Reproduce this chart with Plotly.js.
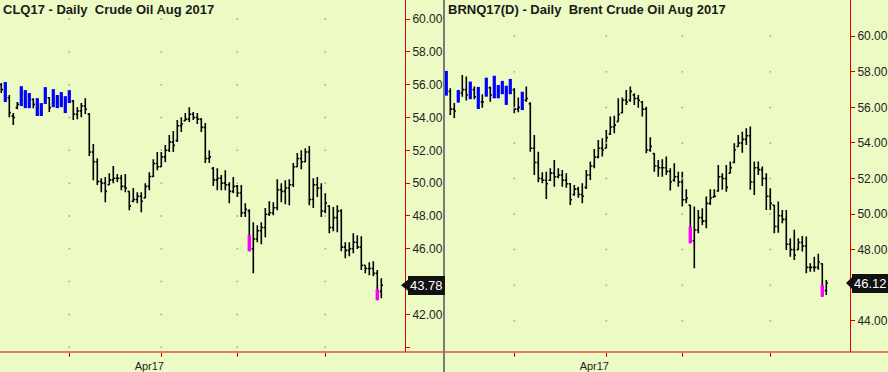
<!DOCTYPE html>
<html>
<head>
<meta charset="utf-8">
<script src="https://cdn.plot.ly/plotly-3.0.1.min.js"></script>
<style>html,body{margin:0;padding:0;background:#ECFBC4;}#chart{width:888px;height:372px;}</style>
</head>
<body>
<div id="chart"></div>
<script>
// ---- trading dates (shared by both contracts) ----
const dates = [
"2017-02-03","2017-02-06","2017-02-07","2017-02-08","2017-02-09","2017-02-10","2017-02-13","2017-02-14","2017-02-15","2017-02-16",
"2017-02-17","2017-02-21","2017-02-22","2017-02-23","2017-02-24","2017-02-27","2017-02-28","2017-03-01","2017-03-02","2017-03-03",
"2017-03-06","2017-03-07","2017-03-08","2017-03-09","2017-03-10","2017-03-13","2017-03-14","2017-03-15","2017-03-16","2017-03-17",
"2017-03-20","2017-03-21","2017-03-22","2017-03-23","2017-03-24","2017-03-27","2017-03-28","2017-03-29","2017-03-30","2017-03-31",
"2017-04-03","2017-04-04","2017-04-05","2017-04-06","2017-04-07","2017-04-10","2017-04-11","2017-04-12","2017-04-13","2017-04-17",
"2017-04-18","2017-04-19","2017-04-20","2017-04-21","2017-04-24","2017-04-25","2017-04-26","2017-04-27","2017-04-28","2017-05-01",
"2017-05-02","2017-05-03","2017-05-04","2017-05-05","2017-05-08","2017-05-09","2017-05-10","2017-05-11","2017-05-12","2017-05-15",
"2017-05-16","2017-05-17","2017-05-18","2017-05-19","2017-05-22","2017-05-23","2017-05-24","2017-05-25","2017-05-26","2017-05-30",
"2017-05-31","2017-06-01","2017-06-02","2017-06-05","2017-06-06","2017-06-07","2017-06-08","2017-06-09","2017-06-12","2017-06-13",
"2017-06-14","2017-06-15","2017-06-16","2017-06-19","2017-06-20","2017-06-21"];

const monthStarts = ["2017-03-01","2017-04-03","2017-05-01","2017-06-01"];
const monthLabels = ["","Apr17","",""];

// ---- CLQ17 (WTI Aug 2017) ----
const clOpen = [56.0,55.7,55.2,54.1,54.6,54.8,55.5,54.9,55.1,54.8,54.4,54.9,55.2,54.7,55.3,54.9,55.2,54.9,55.0,54.2,
54.4,54.7,54.2,51.9,51.3,50.1,50.0,49.9,50.2,50.3,50.3,49.8,49.5,48.9,49.0,49.2,49.1,49.8,50.4,51.2,
51.0,51.6,52.0,52.5,52.6,53.5,53.8,53.9,54.2,54.0,53.9,53.4,51.5,50.9,50.2,50.3,50.0,49.9,49.5,49.8,
49.4,48.2,48.3,46.0,46.6,47.1,47.3,48.1,48.2,48.5,49.6,49.5,49.7,49.9,51.0,51.5,51.3,51.9,49.0,49.9,
49.7,48.3,48.6,47.3,47.9,48.3,46.1,45.9,46.0,46.4,46.1,45.0,44.8,44.8,44.5,43.4];
const clHigh = [56.10,56.16,55.37,54.27,54.94,55.91,55.67,55.49,55.18,55.18,54.88,55.85,55.24,55.73,55.37,55.55,55.30,55.67,55.06,54.63,
54.88,55.18,54.27,52.38,51.52,50.30,50.37,50.61,51.04,50.55,50.49,50.55,49.51,49.70,49.45,49.45,50.00,50.67,51.46,51.89,
51.89,52.32,52.93,53.17,53.84,54.02,54.27,54.63,54.33,54.27,53.96,53.66,52.01,50.98,50.91,50.49,50.79,50.06,50.37,49.88,
49.88,48.78,48.41,47.62,47.44,47.62,48.48,48.90,48.84,50.24,50.00,50.18,50.24,51.22,51.83,52.01,52.13,52.26,50.30,50.37,
50.00,49.39,48.66,48.54,48.66,48.41,46.40,46.40,46.95,46.83,46.77,45.00,45.18,45.24,44.70,44.21];
const clLow = [55.49,54.94,54.02,53.54,54.51,54.70,54.57,54.57,54.57,54.09,54.09,54.82,54.33,54.63,54.57,54.63,54.27,54.88,53.84,53.90,
54.02,54.21,51.65,50.18,49.88,49.45,48.84,49.88,50.00,50.06,49.57,49.45,48.35,48.84,48.78,48.23,49.09,49.57,50.37,50.79,
50.98,51.28,51.89,51.89,52.50,53.11,53.78,53.72,53.84,53.60,53.11,51.22,51.22,49.82,49.57,49.57,49.57,48.78,49.39,49.15,
47.93,47.93,45.85,44.51,46.40,46.28,46.71,47.99,48.05,48.35,48.84,48.72,48.66,49.76,50.98,50.85,51.28,48.66,48.48,49.15,
47.93,48.17,46.95,47.07,47.01,45.85,45.43,45.55,45.73,45.98,44.70,44.51,44.39,44.33,42.87,42.99];
const clClose = [55.7,55.0,54.3,54.0,54.8,55.5,54.9,55.1,54.8,54.4,54.6,55.4,54.6,55.4,54.9,55.3,54.6,55.4,54.2,54.4,
54.7,54.5,51.9,51.3,50.1,50.0,49.5,50.2,50.3,50.3,49.8,49.7,48.6,49.0,49.2,48.9,49.8,50.4,51.2,51.0,
51.6,52.0,52.5,52.3,53.5,53.6,53.9,54.2,54.0,53.9,53.4,51.5,51.6,50.2,50.3,50.0,49.9,49.5,49.8,49.4,
48.2,48.4,46.0,46.6,47.1,47.3,48.1,48.2,48.5,49.6,49.5,49.7,49.9,51.0,51.5,51.3,51.9,49.0,49.9,49.7,
48.3,48.8,47.3,47.9,48.3,46.1,45.9,46.0,46.4,46.1,45.0,44.8,44.8,44.5,43.4,43.78];
const clBlue = [1,5,6,7,9,10,11,13,14,15,16,17];          // bar indexes drawn in blue
const clMagIdx = [62,94];                                  // bars with magenta segment
const clMagHigh = [46.83,43.54];
const clMagLow = [45.85,42.87];
const clTicks = [40,42,44,46,48,50,52,54,56,58,60];
// 40.00 is clipped by the bottom edge and 44.00 lies under the last-price box in the reference
const clTickText = ["","42.00","","46.00","48.00","50.00","52.00","54.00","56.00","58.00","60.00"];
const clLast = 43.78;

// ---- BRNQ17 (Brent Aug 2017) ----
const brOpen = [57.9,56.9,55.9,56.3,56.8,57.0,56.7,57.0,56.6,56.3,56.6,57.1,56.7,57.2,56.8,57.0,56.8,57.0,55.9,56.0,
56.4,56.2,53.7,52.9,52.0,51.9,51.9,52.3,52.1,52.2,51.9,51.7,51.1,51.4,51.1,51.5,52.2,52.7,53.2,53.7,
53.7,54.5,54.9,55.2,55.7,56.4,56.4,56.7,56.5,56.3,55.9,53.6,53.4,52.7,52.6,52.6,52.4,51.9,52.1,51.8,
50.8,50.5,48.5,49.1,49.8,49.6,50.6,50.95,51.3,52.1,52.0,52.3,52.9,53.8,54.0,54.2,54.4,51.8,52.6,52.5,
52.0,51.0,50.5,49.3,49.9,49.7,48.3,48.0,48.0,48.4,48.2,47.0,47.0,47.0,47.2,45.7];
const brHigh = [58.05,57.08,56.25,56.98,57.82,57.73,57.45,57.17,57.15,56.74,57.67,57.17,57.78,57.26,57.49,57.22,57.60,57.08,56.55,56.88,
57.17,56.29,54.45,53.51,52.35,52.38,52.58,53.04,52.58,52.48,52.29,51.73,51.64,51.54,51.73,52.48,52.95,53.66,54.17,54.26,
54.73,55.48,55.53,56.51,56.55,56.98,57.17,56.79,56.70,56.36,56.04,54.32,53.42,53.04,53.08,53.23,52.58,52.86,52.38,52.38,
51.39,50.51,50.42,50.23,50.33,50.98,51.39,51.39,52.76,52.29,52.76,52.95,53.98,54.45,54.63,54.83,54.92,52.95,52.95,52.67,
52.29,51.45,50.51,50.70,50.23,50.23,48.64,49.11,48.64,48.77,48.73,47.23,47.60,47.76,47.23,46.29];
const brLow = [56.66,55.57,55.40,56.27,56.60,56.38,56.46,56.46,55.91,55.98,56.60,56.32,56.51,56.51,56.74,56.14,56.74,55.67,55.73,55.85,
56.32,53.51,52.20,51.79,51.73,50.85,51.86,51.54,52.01,51.54,51.48,50.51,51.03,50.92,50.61,51.41,51.92,52.58,53.14,53.23,
53.70,54.45,54.54,55.20,55.67,56.14,56.32,56.14,55.98,55.48,53.42,53.51,52.38,52.10,52.10,52.20,51.32,51.82,51.54,50.42,
50.61,48.36,46.95,48.92,49.39,49.20,50.51,50.94,51.26,51.36,51.26,52.29,52.86,53.79,53.45,53.89,51.36,51.07,52.20,51.58,
50.23,50.23,48.92,48.95,49.48,47.98,47.60,47.42,47.98,47.89,46.67,46.76,46.76,46.86,45.35,45.45];
const brClose = [56.9,55.9,55.8,56.8,57.0,56.7,57.0,56.6,56.3,56.3,57.2,56.7,57.2,56.8,57.0,56.5,57.2,55.9,56.0,56.3,
56.5,53.7,52.9,52.0,51.9,51.7,52.3,52.1,52.2,51.9,51.7,50.8,51.4,51.1,51.0,52.2,52.7,53.2,53.7,53.6,
54.3,54.9,55.0,55.6,56.4,56.3,56.9,56.5,56.4,55.9,53.6,53.8,52.7,52.6,52.6,52.4,51.8,52.1,51.8,50.8,
50.9,48.5,49.1,49.8,49.6,50.6,50.9,51.0,52.1,52.0,51.5,52.6,53.6,54.0,54.2,54.4,51.8,52.6,52.5,52.0,
51.0,50.6,49.3,49.9,49.7,48.3,48.0,47.7,48.4,48.2,47.0,47.0,47.0,47.3,45.7,46.12];
const brBlue = [0,3,6,8,10,12,13,14,15,16,19];
const brMagIdx = [61,94];
const brMagHigh = [49.29,46.01];
const brMagLow = [48.36,45.35];
const brTicks = [44,46,48,50,52,54,56,58,60];
// 46.00 lies under the last-price box in the reference
const brTickText = ["44.00","","48.00","50.00","52.00","54.00","56.00","58.00","60.00"];
const brLast = 46.12;

// ---- style ----
const BG = "#ECFBC4";
const RED = "#E00000";
const FONT = "Liberation Sans, Arial, sans-serif";
const W = 888, H = 372;

function pick(arr, idx){ return idx.map(i => arr[i]); }

function panelTraces(xa, ya, O, Hh, L, C, blueIdx, magIdx, magHi, magLo, ticks){
  const all = dates.map((d,i)=>i);
  const blk = all.filter(i => blueIdx.indexOf(i) < 0);
  const t = [];
  const gx = [], gy = [];
  monthStarts.forEach(m => ticks.forEach(v => { gx.push(m); gy.push(v); }));
  t.push({type:"scatter", mode:"markers", x:gx, y:gy, xaxis:xa, yaxis:ya,
    marker:{size:2, color:"#B0B0A8"}, hoverinfo:"skip"});
  t.push({type:"ohlc", xaxis:xa, yaxis:ya,
    x:pick(dates,blk), open:pick(O,blk), high:pick(Hh,blk), low:pick(L,blk), close:pick(C,blk),
    tickwidth:0.42,
    increasing:{line:{color:"#000000", width:1.6}},
    decreasing:{line:{color:"#000000", width:1.6}}});
  t.push({type:"ohlc", xaxis:xa, yaxis:ya,
    x:pick(dates,blueIdx), open:pick(O,blueIdx), high:pick(Hh,blueIdx), low:pick(L,blueIdx), close:pick(C,blueIdx),
    tickwidth:0,
    increasing:{line:{color:"#0000FF", width:3.2}},
    decreasing:{line:{color:"#0000FF", width:3.2}}});
  t.push({type:"ohlc", xaxis:xa, yaxis:ya,
    x:pick(dates,magIdx), open:magHi, high:magHi, low:magLo, close:magLo,
    tickwidth:0,
    increasing:{line:{color:"#FF00FF", width:3.4}},
    decreasing:{line:{color:"#FF00FF", width:3.4}}});
  return t;
}

const data = [].concat(
  panelTraces("x","y", clOpen, clHigh, clLow, clClose, clBlue, clMagIdx, clMagHigh, clMagLow, clTicks),
  panelTraces("x2","y2", brOpen, brHigh, brLow, brClose, brBlue, brMagIdx, brMagHigh, brMagLow, brTicks)
);

const yDom = [20/H, 1];
function xAxis(dom, anchor){
  return {domain:dom, anchor:anchor, type:"category", categoryorder:"array", categoryarray:dates,
    range:[-0.325, 100.925], tickmode:"array", tickvals:monthStarts, ticktext:monthLabels,
    ticks:"outside", ticklen:4, tickcolor:RED, tickwidth:1, showgrid:false, zeroline:false, showline:false,
    ticklabelshift:-12, tickfont:{family:FONT, size:11, color:"#1E1E1E"},
    rangeslider:{visible:false}, fixedrange:true};
}
function yAxis(range, anchor, tv, tt){
  return {domain:yDom, anchor:anchor, side:"right", range:range, tickmode:"array", tickvals:tv, ticktext:tt,
    ticks:"outside", ticklen:4, tickcolor:RED, tickwidth:1, showline:true, linecolor:RED, linewidth:1,
    showgrid:false, zeroline:false, tickfont:{family:FONT, size:12, color:"#222222"}, fixedrange:true};
}

function priceBox(xPix, yref, val, tipPix){
  return {
    ann:{xref:"paper", yref:yref, x:xPix/W, y:val, xanchor:"left", yanchor:"middle", showarrow:false,
      text:val.toFixed(2), bgcolor:"#111111", bordercolor:"#111111", borderpad:1,
      font:{family:FONT, size:13, color:"#FFFFFF"}},
    tri:{type:"path", xref:"paper", yref:yref, fillcolor:"#111111", line:{width:0},
      path:"M "+(tipPix/W)+","+val+" L "+(xPix/W)+","+(val+0.33)+" L "+(xPix/W)+","+(val-0.33)+" Z"}
  };
}
const pbL = priceBox(408, "y", clLast, 401);
const pbR = priceBox(852, "y2", brLast, 846);

const layout = {
  width:W, height:H, margin:{l:0, r:0, t:0, b:0, pad:0},
  paper_bgcolor:BG, plot_bgcolor:BG, showlegend:false,
  font:{family:FONT},
  xaxis:xAxis([0, 405/W], "y"),
  yaxis:yAxis([39.71, 61.16], "x", clTicks, clTickText),
  xaxis2:xAxis([445/W, 850/W], "y2"),
  yaxis2:yAxis([42.24, 62.04], "x2", brTicks, brTickText),
  shapes:[
    {type:"line", xref:"paper", yref:"paper", x0:0, x1:1, y0:20/H, y1:20/H, line:{color:RED, width:1.2}},
    {type:"line", xref:"paper", yref:"paper", x0:444/W, x1:444/W, y0:0, y1:1, line:{color:"#7A7A7A", width:2}},
    pbL.tri, pbR.tri
  ],
  annotations:[
    {xref:"paper", yref:"paper", x:1/W, y:1, xanchor:"left", yanchor:"top", showarrow:false,
      text:"<b>CLQ17 - Daily\u00a0 Crude Oil Aug 2017</b>", font:{family:FONT, size:13, color:"#1A1A1A"}},
    {xref:"paper", yref:"paper", x:446/W, y:1, xanchor:"left", yanchor:"top", showarrow:false,
      text:"<b>BRNQ17(D) - Daily\u00a0 Brent Crude Oil Aug 2017</b>", font:{family:FONT, size:13, color:"#1A1A1A"}},
    pbL.ann, pbR.ann
  ]
};

Plotly.newPlot("chart", data, layout, {displayModeBar:false, staticPlot:true});
</script>
</body>
</html>
